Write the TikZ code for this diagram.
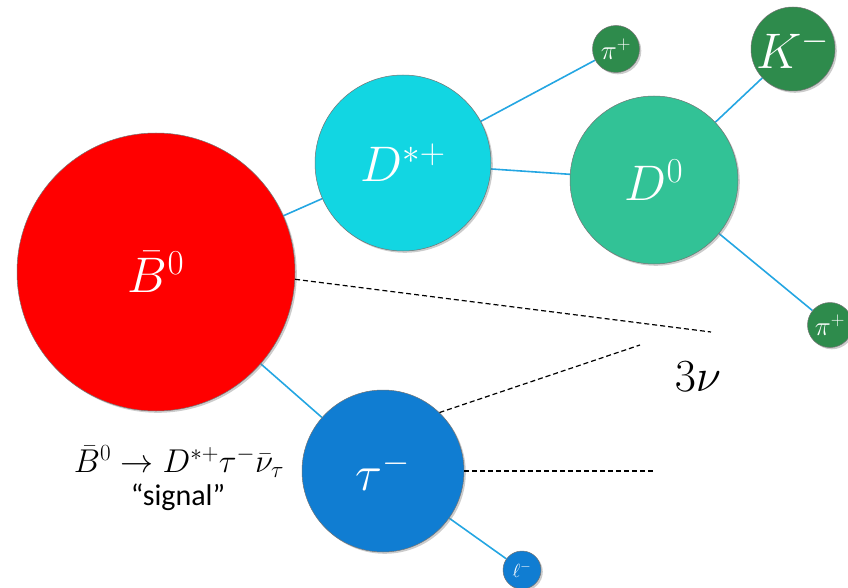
\RequirePackage{fix-cm}
\documentclass[tikz,border=0pt]{standalone}
\usepackage{fontspec}
\newfontfamily\sigfont{Carlito}
\usetikzlibrary{shadows,backgrounds}
\definecolor{linkblue}{RGB}{36,166,226}
\definecolor{bred}{RGB}{255,0,0}
\definecolor{dcyan}{RGB}{18,214,226}
\definecolor{dzero}{RGB}{50,194,150}
\definecolor{kgreen}{RGB}{46,139,76}
\definecolor{taublue}{RGB}{16,125,210}
\tikzset{
  particle/.style={circle, inner sep=0pt, draw=black!55, line width=0.5pt, text=white,
    drop shadow={opacity=0.4, shadow xshift=1.8pt, shadow yshift=-1.8pt}},
  link/.style={draw=linkblue, line width=1.6pt},
  nuline/.style={draw=black, line width=1.2pt, dash pattern=on 5pt off 3pt},
  bigfont/.style={font=\fontsize{50}{52}\selectfont},
  smallfont/.style={font=\fontsize{27}{29}\selectfont}
}
\begin{document}
\begin{tikzpicture}[x=1pt,y=-1pt]
\useasboundingbox (0,0) rectangle (848,588);
\node[particle, fill=bred, minimum size=278pt, bigfont] (B) at (156,272) {$\bar{B}^{0}$};
\node[particle, fill=dcyan, minimum size=176pt, bigfont] (Ds) at (403,163) {$D^{*+}$};
\node[particle, fill=dzero, minimum size=168pt, bigfont] (D0) at (654,180) {$D^{0}$};
\node[particle, fill=kgreen, minimum size=84pt, bigfont] (K) at (793,49) {$K^{-}$};
\node[particle, fill=kgreen, minimum size=47pt, smallfont] (pi1) at (616,49) {$\pi^{+}$};
\node[particle, fill=kgreen, minimum size=45pt, smallfont] (pi2) at (830,325) {$\pi^{+}$};
\node[particle, fill=taublue, minimum size=162pt, bigfont] (T) at (383,471) {$\tau^{-}$};
\node[particle, fill=taublue, minimum size=38pt, font=\fontsize{19}{20}\selectfont] (L) at (522,570) {$\ell^{-}$};
\coordinate (n1) at (711,332);
\coordinate (n2) at (640,345);
\coordinate (n3) at (656,471);
\node[font=\fontsize{46}{48}\selectfont] (nu) at (698,377) {$3\nu$};
\node[font=\fontsize{33}{35}\selectfont] (decay) at (179,462) {$\bar{B}^{0}\rightarrow D^{*+}\tau^{-}\bar{\nu}_{\tau}$};
\node[font=\sigfont\fontsize{30}{32}\selectfont] (sig) at (178,497) {“signal”};
\begin{scope}[on background layer]
\draw[link] (B) -- (Ds);
\draw[link] (Ds) -- (D0);
\draw[link] (Ds) -- (pi1);
\draw[link] (D0) -- (K);
\draw[link] (D0) -- (pi2);
\draw[link] (B) -- (T);
\draw[link] (T) -- (L);
\end{scope}
\draw[nuline] (B.-3) -- (n1);
\draw[nuline] (T.46) -- (n2);
\draw[nuline] (T.east) -- (n3);
\end{tikzpicture}
\end{document}
